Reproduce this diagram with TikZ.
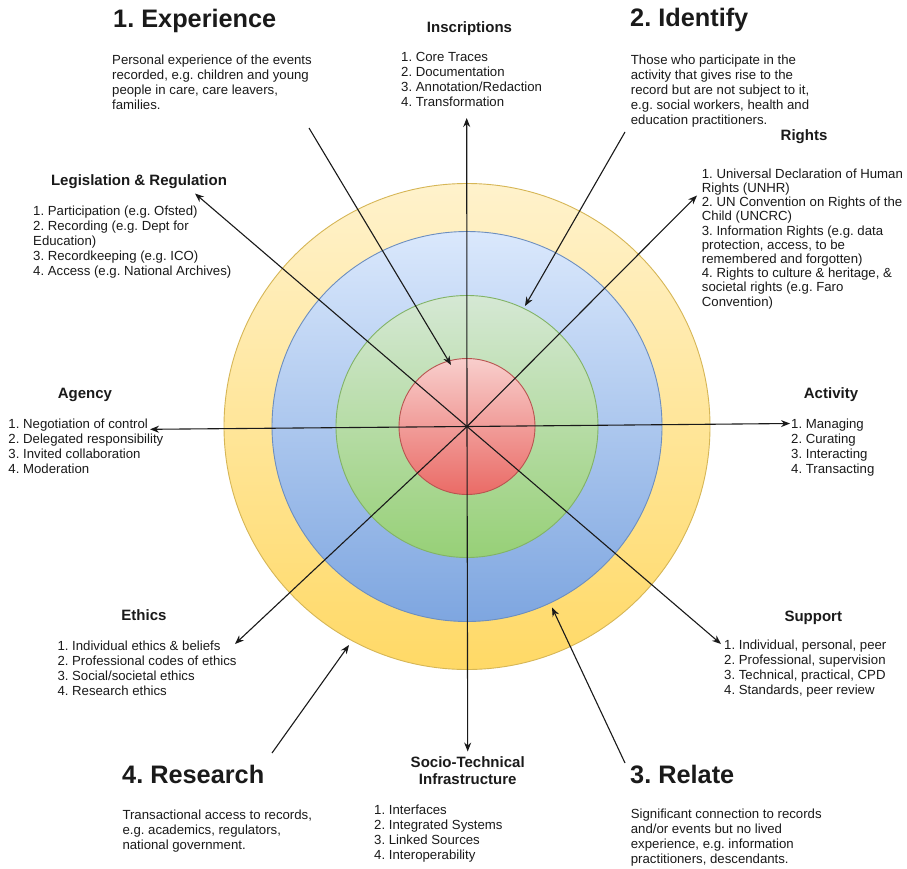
\documentclass[tikz,border=0pt]{standalone}
\usepackage{fontspec}
\setmainfont{Liberation Sans}
\usetikzlibrary{arrows.meta}
\definecolor{ytop}{HTML}{FFF2CC}\definecolor{ybot}{HTML}{FFD966}\definecolor{ydraw}{HTML}{D6B656}
\definecolor{btop}{HTML}{DAE8FC}\definecolor{bbot}{HTML}{7EA6E0}\definecolor{bdraw}{HTML}{6C8EBF}
\definecolor{gtop}{HTML}{D5E8D4}\definecolor{gbot}{HTML}{97D077}\definecolor{gdraw}{HTML}{82B366}
\definecolor{rtop}{HTML}{F8CECC}\definecolor{rbot}{HTML}{EA6B66}\definecolor{rdraw}{HTML}{B85450}
\definecolor{ink}{HTML}{1A1A1A}
\begin{document}
\frenchspacing
\begin{tikzpicture}[x=1pt,y=-1pt,
  ring/.style={line width=0.9pt},
  conn/.style={line width=1.1pt, draw=ink, -{Stealth[length=9pt,width=7pt]}},
  body/.style={anchor=north west, inner sep=0pt, align=left, text=ink, font=\fontsize{13.2}{15}\selectfont},
  bodyr/.style={body, font=\fontsize{13.2}{14.2}\selectfont},
  head/.style={anchor=base, inner sep=0pt, text=ink, font=\fontsize{15}{17.6}\selectfont\bfseries},
  bigtitle/.style={anchor=base west, inner sep=0pt, text=ink, font=\fontsize{25.3}{30}\selectfont\bfseries}]
\useasboundingbox[fill=white] (0,0) rectangle (907,868);

\coordinate (c) at (467,426.5);
% rings
\path[ring, draw=ydraw, top color=ytop, bottom color=ybot] (c) circle[radius=243];
\path[ring, draw=bdraw, top color=btop, bottom color=bbot] (c) circle[radius=195];
\path[ring, draw=gdraw, top color=gtop, bottom color=gbot] (c) circle[radius=131];
\path[ring, draw=rdraw, top color=rtop, bottom color=rbot] (c) circle[radius=68];

% titles
\node[bigtitle] (t1) at (113,27) {1. Experience};
\node[bigtitle] (t2) at (630,26.7) {2. Identify};
\node[bigtitle] (t4) at (122,783.3) {4. Research};
\node[bigtitle] (t3) at (630,783.3) {3. Relate};

\node[body] (d1) at (112,54.5) {Personal experience of the events\\recorded, e.g. children and young\\people in care, care leavers,\\families.};
\node[body] (d2) at (630.7,55.2) {Those who participate in the\\activity that gives rise to the\\record but are not subject to it,\\e.g. social workers, health and\\education practitioners.};
\node[body] (d4) at (122.3,810.2) {Transactional access to records,\\e.g. academics, regulators,\\national government.};
\node[body] (d3) at (630.7,809.2) {Significant connection to records\\and/or events but no lived\\experience, e.g. information\\practitioners, descendants.};

% headings
\node[head] (hleg) at (139,185.4) {Legislation \& Regulation};
\node[head] (hins) at (469.5,32.1) {Inscriptions};
\node[head] (hrig) at (804,140.4) {Rights};
\node[head] (hage) at (85,398.7) {Agency};
\node[head] (hact) at (831,398.1) {Activity};
\node[head] (heth) at (144,620.4) {Ethics};
\node[head] (hsup) at (813.3,621.4) {Support};
\node[head, anchor=north, align=center] (hsoc) at (467.7,756.3) {Socio-Technical\\Infrastructure};

% lists
\node[body] (lleg) at (33,205.9) {1. Participation (e.g. Ofsted)\\2. Recording (e.g. Dept for\\Education)\\3. Recordkeeping (e.g. ICO)\\4. Access (e.g. National Archives)};
\node[body] (lins) at (401,52.5) {1. Core Traces\\2. Documentation\\3. Annotation/Redaction\\4. Transformation};
\node[bodyr] (lrig) at (701.7,168.5) {1. Universal Declaration of Human\\Rights (UNHR)\\2. UN Convention on Rights of the\\Child (UNCRC)\\3. Information Rights (e.g. data\\protection, access, to be\\remembered and forgotten)\\4. Rights to culture \& heritage, \&\\societal rights (e.g. Faro\\Convention)};
\node[body] (lage) at (8.3,418.5) {1. Negotiation of control\\2. Delegated responsibility\\3. Invited collaboration\\4. Moderation};
\node[body] (lact) at (791,418.5) {1. Managing\\2. Curating\\3. Interacting\\4. Transacting};
\node[body] (leth) at (57.3,641.2) {1. Individual ethics \& beliefs\\2. Professional codes of ethics\\3. Social/societal ethics\\4. Research ethics};
\node[body] (lsoc) at (374,804.5) {1. Interfaces\\2. Integrated Systems\\3. Linked Sources\\4. Interoperability};
\node[body] (lsup) at (724,640.2) {1. Individual, personal, peer\\2. Professional, supervision\\3. Technical, practical, CPD\\4. Standards, peer review};

% radial arrow tips
\coordinate (pN) at (466.7,118);
\coordinate (pS) at (467.7,751.5);
\coordinate (pW) at (150,429.3);
\coordinate (pE) at (790,423.5);
\coordinate (pNW) at (195,193.5);
\coordinate (pNE) at (697,195.5);
\coordinate (pSW) at (235,644);
\coordinate (pSE) at (721,644);
\foreach \p in {pN,pS,pW,pE,pNW,pNE,pSW,pSE} \draw[conn] (c) -- (\p);

% stakeholder arrows
\coordinate (s1) at (309,128);
\coordinate (e1) at (451,365);
\coordinate (s2) at (625,132);
\coordinate (e2) at (525,306);
\coordinate (s4) at (272,753);
\coordinate (e4) at (349,645);
\coordinate (s3) at (625,763);
\coordinate (e3) at (552,607.5);
\draw[conn] (s1) -- (e1);
\draw[conn] (s2) -- (e2);
\draw[conn] (s4) -- (e4);
\draw[conn] (s3) -- (e3);
\end{tikzpicture}
\end{document}
